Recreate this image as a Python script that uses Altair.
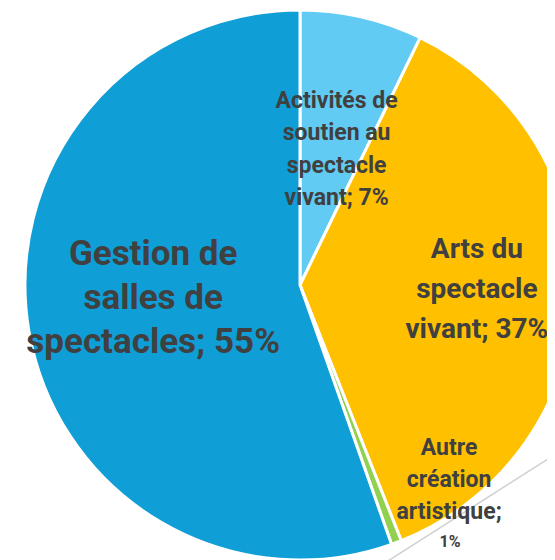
import altair as alt
import pandas as pd

categories = [
    "Activités de soutien au spectacle vivant",
    "Arts du spectacle vivant",
    "Autre création artistique",
    "Gestion de salles de spectacles",
]
shares = [7.2, 36.8, 0.6, 55.4]
pct_labels = ["7%", "37%", "1%", "55%"]
label_lines = [
    ["Activités de", "soutien au", "spectacle", "vivant; 7%"],
    ["Arts du", "spectacle", "vivant; 37%"],
    ["Autre", "création", "artistique;"],
    ["Gestion de", "salles de", "spectacles; 55%"],
]
colors = ["#61CBF3", "#FFC000", "#92D050", "#0F9ED5"]

df = pd.DataFrame({
    "cat": categories,
    "share": shares,
    "pct": pct_labels,
    "label": ["\n".join(l) for l in label_lines],
    "idx": list(range(len(categories))),
})

W, H = 539, 552
CX, CY = 292, 277
R = 275
FONT = "Roboto, sans-serif"
TXT = "#404040"

base = alt.Chart(df).encode(
    theta=alt.Theta("share:Q", stack=True),
    order=alt.Order("idx:Q"),
    x=alt.value(CX),
    y=alt.value(CY),
)

pie = base.mark_arc(radius=R, stroke="white", strokeWidth=3).encode(
    color=alt.Color("cat:N", scale=alt.Scale(domain=categories, range=colors), legend=None)
)


def lbl(i, field, size, lh, r, dx, dy):
    return base.transform_calculate(
        t=f"datum.idx == {i} ? datum.{field} : ''"
    ).mark_text(
        radius=r, fontSize=size, fontWeight="bold", font=FONT, color=TXT,
        lineBreak="\n", lineHeight=lh, dx=dx, dy=dy, align="center", baseline="middle",
    ).encode(text="t:N")


labels = [
    lbl(0, "label", 23, 32.5, 141, 5, -47),
    lbl(1, "label", 28, 40, 182, -5, -42),
    lbl(3, "label", 35, 44, 150, 1, -56),
    lbl(2, "label", 23, 32, 200, 79, -24),
    lbl(2, "pct", 16, 20, 200, 80, 70),
]

leader = alt.Chart(df).mark_rule(color="#D0D0D0", strokeWidth=1.5).encode(
    x=alt.value(372), y=alt.value(558), x2=alt.value(562), y2=alt.value(437)
).transform_filter("datum.idx == 0")

chart = alt.layer(pie, leader, *labels).properties(
    width=W, height=H, padding=0, autosize=alt.AutoSizeParams(type="none")
).configure_view(stroke=None)

chart.save("out.html", embed_options={"renderer": "svg", "actions": False})
